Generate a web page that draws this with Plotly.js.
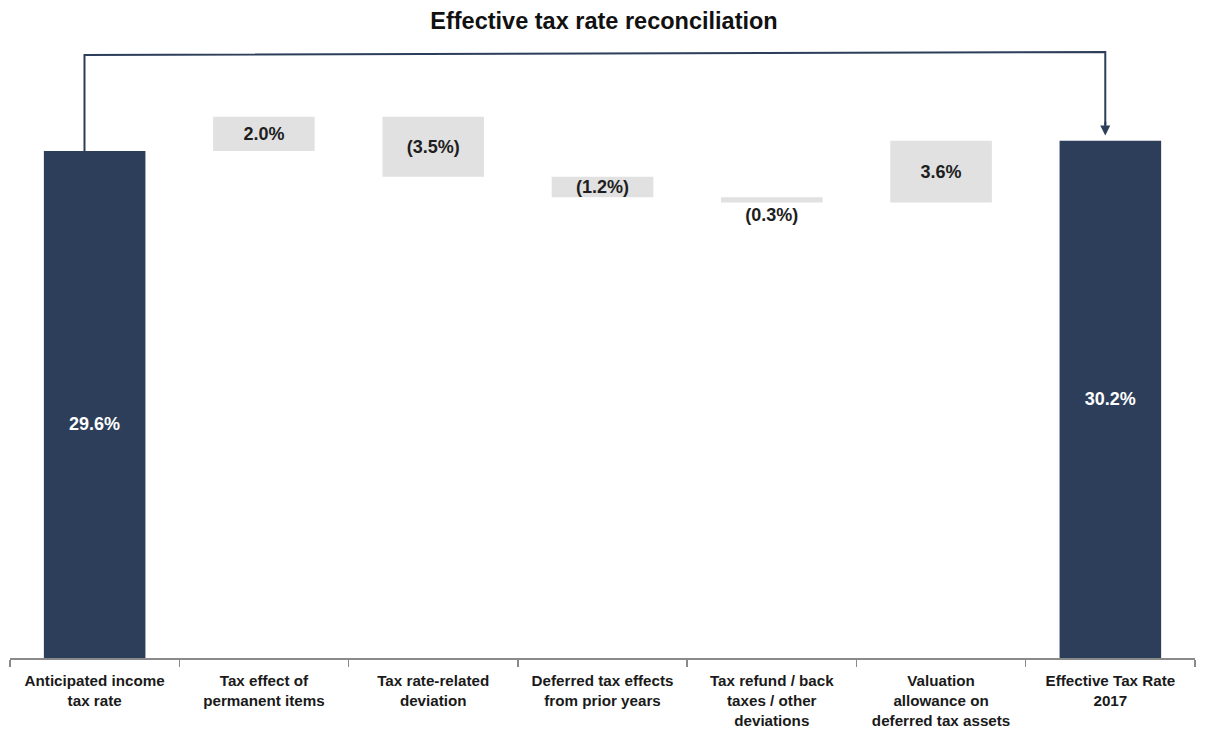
<!DOCTYPE html>
<html>
<head>
<meta charset="utf-8">
<script src="https://cdn.plot.ly/plotly-3.0.1.min.js"></script>
<style>html,body{margin:0;padding:0;background:#fff;}#chart{width:1208px;height:729px;}</style>
</head>
<body>
<div id="chart"></div>
<script>
const categories = [
  "Anticipated income<br>tax rate",
  "Tax effect of<br>permanent items",
  "Tax rate-related<br>deviation",
  "Deferred tax effects<br>from prior years",
  "Tax refund / back<br>taxes / other<br>deviations",
  "Valuation<br>allowance on<br>deferred tax assets",
  "Effective Tax Rate<br>2017"
];
const measures = ["absolute", "relative", "relative", "relative", "relative", "relative", "total"];
const values = [29.6, 2.0, -3.5, -1.2, -0.3, 3.6, 0];
const labels = ["29.6%", "2.0%", "(3.5%)", "(1.2%)", "(0.3%)", "3.6%", "30.2%"];
const finalValue = 30.2;

const navy = "#2d3e5a";
const gray = "#e1e1e1";
const FONT = "Liberation Sans, Arial, sans-serif";

// first label drawn as annotation (sits a little below bar middle in the reference)
const barText = labels.map((t, i) => i === 0 ? "" : t);

const trace = {
  type: "waterfall",
  x: categories,
  y: values,
  measure: measures,
  text: barText,
  textinfo: "text",
  textposition: ["inside", "inside", "inside", "inside", "outside", "inside", "inside"],
  insidetextanchor: "middle",
  constraintext: "none",
  cliponaxis: false,
  textfont: {
    family: FONT,
    size: 18,
    weight: 700,
    color: ["#ffffff", "#1e1e1e", "#1e1e1e", "#1e1e1e", "#1e1e1e", "#1e1e1e", "#ffffff"]
  },
  width: 0.6,
  connector: {visible: false},
  increasing: {marker: {color: gray}},
  decreasing: {marker: {color: gray}},
  totals: {marker: {color: navy}},
  hoverinfo: "none"
};

const layout = {
  width: 1208,
  height: 729,
  margin: {l: 10, r: 13, t: 40, b: 71},
  paper_bgcolor: "#ffffff",
  plot_bgcolor: "#ffffff",
  showlegend: false,
  title: {
    text: "Effective tax rate reconciliation",
    x: 0.5, xanchor: "center",
    y: 0.972, yanchor: "middle",
    font: {family: FONT, size: 23.5, weight: 700, color: "#111111"}
  },
  xaxis: {
    type: "category",
    tickson: "boundaries",
    ticks: "outside",
    ticklen: 7,
    tickwidth: 1.5,
    tickcolor: "#8a8a8a",
    ticklabelstandoff: 8,
    showline: true,
    linecolor: "#8a8a8a",
    linewidth: 2,
    showgrid: false,
    zeroline: false,
    tickangle: 0,
    tickfont: {family: FONT, size: 15.2, weight: 700, color: "#1a1a1a"},
    fixedrange: true
  },
  yaxis: {
    range: [0, 36.08],
    visible: false,
    showgrid: false,
    zeroline: false,
    fixedrange: true
  },
  shapes: [
    {
      type: "path",
      xref: "x", yref: "y",
      path: "M -0.06," + values[0] + " L -0.06,35.2 L 5.97,35.38 L 5.97," + (finalValue + 0.9),
      line: {color: navy, width: 2}
    }
  ],
  annotations: [
    {
      xref: "x", yref: "y", axref: "x", ayref: "y",
      x: 5.97, y: finalValue + 0.3,
      ax: 5.97, ay: finalValue + 1.2,
      showarrow: true,
      arrowhead: 2,
      arrowsize: 1,
      arrowwidth: 2,
      arrowcolor: navy,
      text: ""
    },
    {
      xref: "x", yref: "y",
      x: 0, y: values[0] / 2,
      yshift: -19,
      showarrow: false,
      text: labels[0],
      font: {family: FONT, size: 18, weight: 700, color: "#ffffff"}
    }
  ]
};

Plotly.newPlot("chart", [trace], layout, {displayModeBar: false, staticPlot: true});
</script>
</body>
</html>
